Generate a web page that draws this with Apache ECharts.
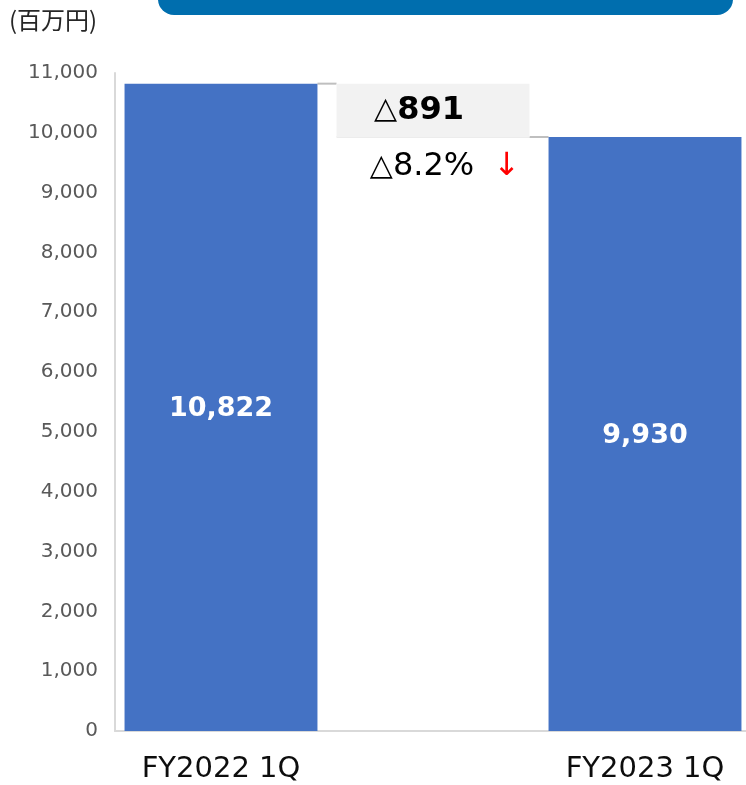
<!DOCTYPE html>
<html>
<head>
<meta charset="utf-8">
<script src="https://cdn.jsdelivr.net/npm/echarts@6/dist/echarts.min.js"></script>
<style>
  html, body { margin: 0; padding: 0; background: #fff; }
  #chart { width: 746px; height: 785px; }
</style>
</head>
<body>
<div id="chart"></div>
<script>
// 区分（中央は差額用の空欄）
const categories = ['FY2022 1Q', '', 'FY2023 1Q']
// 売上（百万円）
const prevValue = 10822
const currValue = 9930
// 差額表示
const diffLabel = '891'
const pctLabel = '8.2%'
// y軸
const yMax = 11000
const yInterval = 1000

const chart = echarts.init(document.getElementById('chart'))
const barW = 0.91
const font = 'DejaVu Sans'

const option = {
  animation: false,
  textStyle: { fontFamily: font },
  title: {
    text: '(百万円)',
    left: 9,
    top: 8,
    padding: 0,
    textStyle: { fontFamily: 'Noto Sans CJK JP', fontSize: 24, fontWeight: 'normal', color: '#262626' }
  },
  graphic: [
    {
      type: 'rect',
      shape: { x: 158, y: -20, width: 575, height: 35, r: 16 },
      style: { fill: '#006eae' }
    }
  ],
  grid: { left: 115, top: 73, width: 636, height: 658, outerBoundsMode: 'none' },
  xAxis: {
    type: 'category',
    data: categories,
    axisLine: { lineStyle: { color: '#d9d9d9', width: 2 } },
    axisTick: { show: false },
    axisLabel: { color: '#0d0d0d', fontSize: 29, margin: 24 }
  },
  yAxis: {
    type: 'value',
    min: 0,
    max: yMax,
    interval: yInterval,
    axisLine: { show: true, lineStyle: { color: '#d9d9d9', width: 2 } },
    axisTick: { show: false },
    splitLine: { show: false },
    axisLabel: {
      color: '#595959',
      fontSize: 20,
      margin: 17,
      formatter: v => v.toLocaleString('en-US')
    }
  },
  series: [
    // 接続線
    {
      type: 'custom',
      z: 1,
      silent: true,
      data: [[0, prevValue, 1], [1, currValue, 2]],
      renderItem: (params, api) => {
        const v = api.value(1)
        const p1 = api.coord([api.value(0), v])
        const p2 = api.coord([api.value(2), v])
        const half = api.size([1, 0])[0] * barW / 2
        const children = [{
          type: 'line',
          shape: { x1: p1[0] + half, y1: p1[1], x2: p2[0] - half, y2: p2[1] },
          style: { stroke: '#bfbfbf', lineWidth: 2 }
        }]
        if (params.dataIndex === 1) {
          children.push({
            type: 'line',
            shape: { x1: p1[0] - half, y1: p1[1], x2: p1[0] + half, y2: p1[1] },
            style: { stroke: '#d9d9d9', lineWidth: 1 }
          })
        }
        return { type: 'group', children }
      }
    },
    {
      type: 'bar',
      z: 3,
      barWidth: barW * 100 + '%',
      barGap: '-100%',
      data: [prevValue, '-', currValue],
      itemStyle: { color: '#4472c4' },
      label: {
        show: true,
        position: 'inside',
        offset: [0, 2],
        color: '#fff',
        fontSize: 27,
        fontWeight: 'bold',
        formatter: p => p.value.toLocaleString('en-US')
      }
    },
    {
      type: 'bar',
      stack: 'w',
      z: 3,
      barWidth: barW * 100 + '%',
      data: ['-', currValue, '-'],
      itemStyle: { color: 'rgba(0,0,0,0)' },
      label: {
        show: true,
        position: 'insideTop',
        distance: 14,
        offset: [12, 0],
        formatter: () => '{t|△}{n|' + pctLabel + '}     {a|↓}',
        rich: {
          t: { fontSize: 30, color: '#000', fontFamily: font },
          n: { fontSize: 32, color: '#000', fontFamily: font },
          a: { fontSize: 32, color: '#ff0000', fontFamily: font }
        }
      }
    },
    {
      type: 'bar',
      stack: 'w',
      z: 3,
      barWidth: barW * 100 + '%',
      data: ['-', prevValue - currValue, '-'],
      itemStyle: { color: '#f2f2f2' },
      label: {
        show: true,
        position: 'inside',
        offset: [-14, 0],
        formatter: () => '{t|△}{n|' + diffLabel + '}',
        rich: {
          t: { fontSize: 30, color: '#000', fontFamily: font },
          n: { fontSize: 32, color: '#000', fontWeight: 'bold', fontFamily: font }
        }
      }
    }
  ]
}

chart.setOption(option)
</script>
</body>
</html>
